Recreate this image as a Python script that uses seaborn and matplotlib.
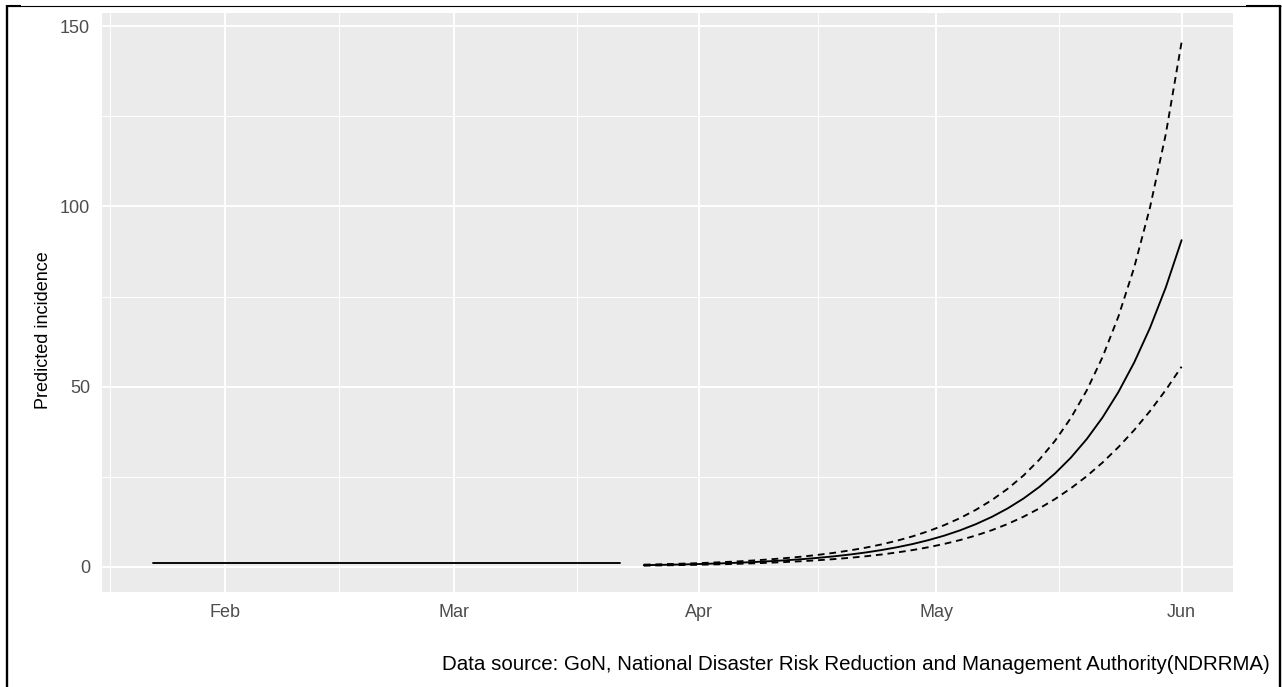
import numpy as np
import pandas as pd
import matplotlib
matplotlib.use("Agg")
import matplotlib.pyplot as plt
import matplotlib.dates as mdates
from matplotlib.lines import Line2D
import seaborn as sns

# Reported period: one case, held flat until the projection starts
obs_dates = ["2020-01-23", "2020-03-22"]
obs_values = [1.0, 1.0]

# Projection, every second day from 25 March to 1 June
proj_start = "2020-03-25"
proj_end = "2020-06-01"
fit_values = [0.44, 0.52, 0.60, 0.71, 0.83, 0.97, 1.13, 1.32, 1.55, 1.81,
              2.11, 2.47, 2.89, 3.38, 3.95, 4.62, 5.41, 6.32, 7.40, 8.65,
              10.12, 11.84, 13.84, 16.19, 18.93, 22.14, 25.90, 30.29, 35.42,
              41.43, 48.46, 56.67, 66.28, 77.52, 90.66]
upper_values = [0.59, 0.69, 0.81, 0.94, 1.10, 1.29, 1.51, 1.77, 2.07, 2.42,
                2.82, 3.30, 3.86, 4.52, 5.28, 6.18, 7.23, 8.45, 9.89, 11.56,
                13.52, 15.82, 18.50, 21.63, 25.31, 29.70, 34.97, 41.30, 48.93,
                58.17, 69.39, 83.02, 99.67, 120.05, 145.60]
lower_values = [0.32, 0.38, 0.44, 0.52, 0.61, 0.71, 0.83, 0.97, 1.13, 1.33,
                1.55, 1.81, 2.12, 2.48, 2.90, 3.39, 3.97, 4.64, 5.43, 6.35,
                7.42, 8.68, 10.15, 11.87, 13.88, 16.18, 18.80, 21.78, 25.13,
                28.92, 33.18, 37.92, 43.20, 49.07, 55.54]

x_ticks = ["2020-02-01", "2020-03-01", "2020-04-01", "2020-05-01", "2020-06-01"]
x_tick_labels = ["Feb", "Mar", "Apr", "May", "Jun"]
y_ticks = [0, 50, 100, 150]
y_label = "Predicted incidence"
caption = ("Data source: GoN, National Disaster Risk Reduction and "
           "Management Authority(NDRRMA)")

obs_d = pd.to_datetime(obs_dates)
proj_d = pd.date_range(proj_start, proj_end, freq="2D")

sns.set_theme(style="darkgrid")
plt.rcParams["font.family"] = ["Liberation Sans", "DejaVu Sans"]

W, H = 1282, 687
fig = plt.figure(figsize=(W / 100, H / 100), dpi=100)
fig.patch.set_facecolor("white")
ax = fig.add_axes([102 / W, 1 - 592 / H, (1233 - 102) / W, (592 - 13) / H])
ax.set_facecolor("#EBEBEB")

line_kw = dict(color="black", linewidth=1.35, ax=ax, legend=False)
dash = (0, (3.6, 2.6))
sns.lineplot(x=obs_d, y=obs_values, **line_kw)
sns.lineplot(x=proj_d, y=fit_values, **line_kw)
sns.lineplot(x=proj_d, y=upper_values, linestyle=dash, **line_kw)
sns.lineplot(x=proj_d, y=lower_values, linestyle=dash, **line_kw)

# axis ranges with ggplot-style 5% padding
x0 = mdates.date2num(pd.Timestamp(obs_dates[0]))
x1 = mdates.date2num(pd.Timestamp(proj_end))
pad = 0.05 * (x1 - x0)
ax.set_xlim(x0 - pad, x1 + pad)
ax.set_ylim(-7.0, 153.7)

major_x = [mdates.date2num(pd.Timestamp(d)) for d in x_ticks]
ax.set_xticks(major_x)
ax.set_xticklabels(x_tick_labels)
step = major_x[1] - major_x[0]
ext = [major_x[0] - step] + major_x
minor_x = [(a + b) / 2 for a, b in zip(ext[:-1], ext[1:])]
ax.set_xticks(minor_x, minor=True)
ax.set_yticks(y_ticks)
ax.set_yticks([(a + b) / 2 for a, b in zip(y_ticks[:-1], y_ticks[1:])], minor=True)

ax.grid(which="major", color="white", linewidth=1.4)
ax.grid(which="minor", color="white", linewidth=0.7)
ax.set_axisbelow(True)
for s in ax.spines.values():
    s.set_visible(False)

ax.tick_params(which="major", length=3.6, width=1.0, color="#333333",
               labelcolor="#4D4D4D", labelsize=13)
ax.tick_params(axis="y", which="major", pad=5)
ax.tick_params(axis="x", which="major", pad=5)
ax.tick_params(which="minor", length=0)
ax.set_xlabel("")
ax.set_ylabel(y_label, fontsize=13, color="black")
ax.yaxis.set_label_coords((52 - 102) / 1131, (592 - 330) / 579)

fig.text(1270 / W, 1 - 664 / H, caption, ha="right", va="center",
         fontsize=14.8, color="black")

# frame around the figure
def fig_line(xs, ys, lw):
    fig.add_artist(Line2D([x / W for x in xs], [1 - y / H for y in ys],
                          transform=fig.transFigure, color="black",
                          linewidth=lw, solid_capstyle="butt"))

fig_line([7, 7], [5, H], 1.7)
fig_line([6, 1281], [5.5, 5.5], 0.8)
fig_line([6, 21], [5.5, 5.5], 1.5)
fig_line([1246, 1281], [5.5, 5.5], 1.5)
fig_line([1280, 1280], [5, H], 1.7)

fig.savefig("out.png", dpi=100)
